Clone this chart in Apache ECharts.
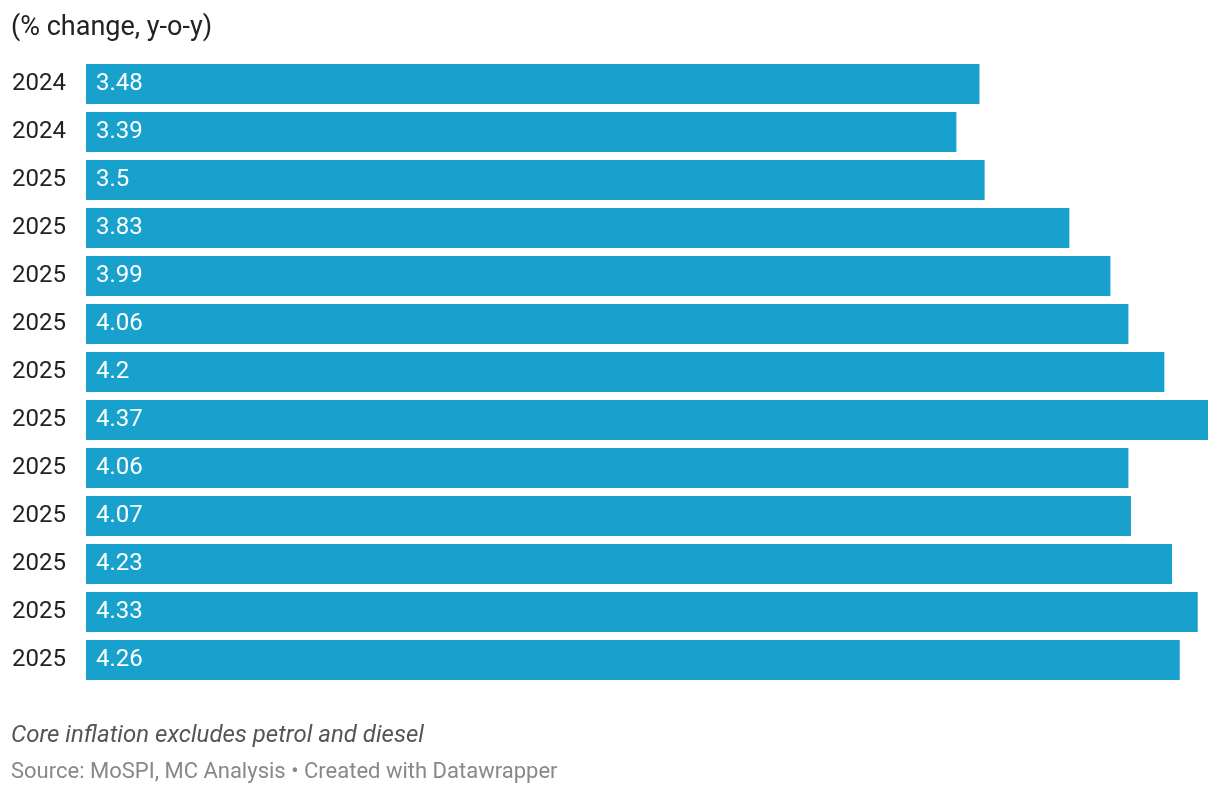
<!DOCTYPE html>
<html>
<head>
<meta charset="utf-8">
<script src="https://cdn.jsdelivr.net/npm/echarts@6/dist/echarts.min.js"></script>
<style>
html,body{margin:0;padding:0;background:#fff;}
#chart{width:1220px;height:794px;}
</style>
</head>
<body>
<div id="chart"></div>
<script>
const years = ["2024","2024","2025","2025","2025","2025","2025","2025","2025","2025","2025","2025","2025"];
const values = [3.48,3.39,3.5,3.83,3.99,4.06,4.2,4.37,4.06,4.07,4.23,4.33,4.26];
const titleText = "(% change, y-o-y)";
const noteText = "Core inflation excludes petrol and diesel";
const sourceText = "Source: MoSPI, MC Analysis \u2022 Created with Datawrapper";

const chart = echarts.init(document.getElementById('chart'));
chart.setOption({
  animation: false,
  textStyle: {fontFamily: 'Roboto'},
  title: [
    {text: titleText, left: 11, top: 15, padding: 0, textStyle: {fontFamily: 'Roboto', fontSize: 27, fontWeight: 'normal', color: '#222'}},
    {text: noteText, left: 11, top: 724, padding: 0, textStyle: {fontFamily: 'Roboto', fontSize: 24, fontStyle: 'italic', fontWeight: 'normal', color: '#555'}},
    {text: sourceText, left: 11, top: 761, padding: 0, textStyle: {fontFamily: 'Roboto', fontSize: 22, fontWeight: 'normal', color: '#888'}}
  ],
  grid: {left: 86, right: 12, top: 60, height: 624, containLabel: false},
  xAxis: {type: 'value', min: 0, max: 4.37, show: false},
  yAxis: {
    type: 'category', inverse: true,
    data: years.map((y, i) => String(i)),
    axisLine: {show: false}, axisTick: {show: false},
    axisLabel: {formatter: (v) => years[+v], align: 'left', margin: 74, fontSize: 24, color: '#222', fontFamily: 'Roboto', padding: [4, 0, 0, 0]}
  },
  series: [{
    type: 'bar', data: values, barWidth: 40,
    itemStyle: {color: '#18a1cd'},
    label: {show: true, position: 'insideLeft', distance: 10, color: '#fff', fontSize: 24, fontFamily: 'Roboto', padding: [4, 0, 0, 0], formatter: (p) => String(p.value)}
  }]
});
</script>
</body>
</html>
